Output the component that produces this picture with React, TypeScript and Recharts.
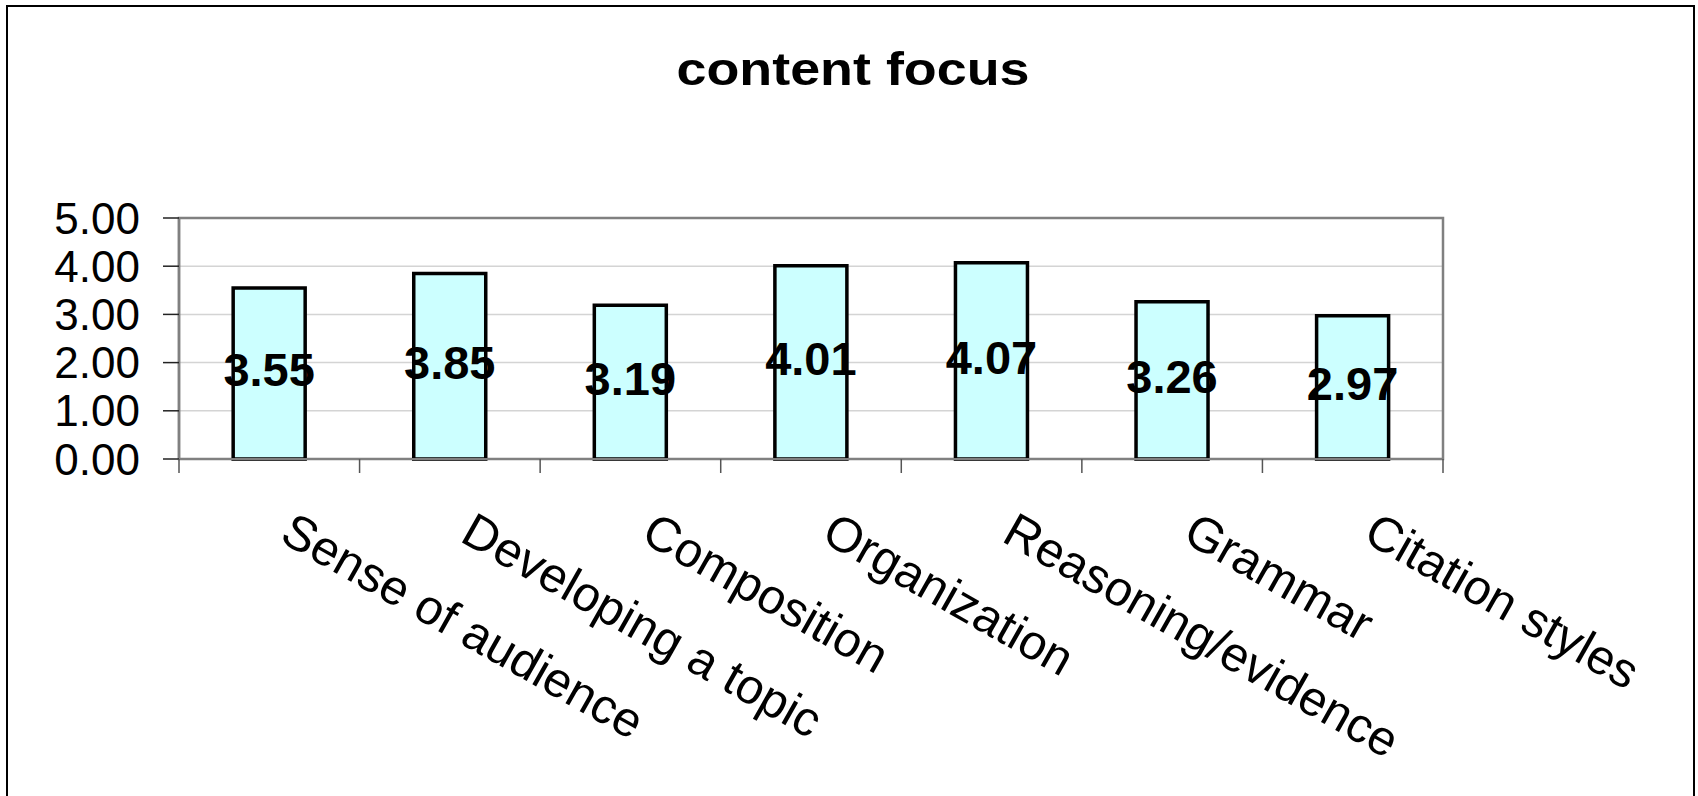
import React from 'react';
import { BarChart, Bar, XAxis, YAxis, CartesianGrid, ReferenceArea, LabelList } from 'recharts';

const categories = [
  'Sense of audience',
  'Developing a topic',
  'Composition',
  'Organization',
  'Reasoning/evidence',
  'Grammar',
  'Citation styles',
];
const scores = [3.55, 3.85, 3.19, 4.01, 4.07, 3.26, 2.97];
const yTicks = [0, 1, 2, 3, 4, 5];
const title = 'content focus';

const data = categories.map((name, i) => ({ name, score: scores[i] }));

const FONT = '"Liberation Sans", Arial, Helvetica, sans-serif';

const CategoryTick = (props: any) => {
  const { x, y, payload, index, visibleTicksCount, width } = props;
  const half =
    payload && typeof payload.offset === 'number' && payload.offset > 0
      ? payload.offset
      : width / visibleTicksCount / 2;
  const ax = x + 26;
  const ay = y + 51;
  const isLast = index === visibleTicksCount - 1;
  return (
    <g>
      <line x1={x - half} y1={y} x2={x - half} y2={y + 14} stroke="#555" strokeWidth={1.5} />
      {isLast && <line x1={x + half} y1={y} x2={x + half} y2={y + 14} stroke="#555" strokeWidth={1.5} />}
      <g transform={`translate(${ax},${ay}) rotate(29.5)`}>
        <text x={0} y={35} fontSize={49} fontFamily={FONT} fill="#000" textAnchor="start">
          {payload.value}
        </text>
      </g>
    </g>
  );
};

export default function App() {
  return (
    <div style={{ position: 'absolute', left: 0, top: 0, width: 1698, height: 796, background: '#fff', overflow: 'hidden' }}>
      <BarChart
        width={1698}
        height={796}
        data={data}
        margin={{ top: 218, right: 255, bottom: 217, left: 0 }}
        barCategoryGap="30%"
      >
        <CartesianGrid vertical={false} stroke="#d4d4d4" strokeWidth={1.5} />
        <ReferenceArea y1={0} y2={5} fill="none" stroke="#808080" strokeWidth={2.5} ifOverflow="visible" />
        <XAxis
          dataKey="name"
          interval={0}
          height={120}
          axisLine={{ stroke: '#808080', strokeWidth: 2 }}
          tickLine={false}
          tickSize={0}
          tickMargin={0}
          tick={<CategoryTick />}
        />
        <YAxis
          width={179}
          domain={[0, 5]}
          ticks={yTicks}
          interval={0}
          tickFormatter={(v: number) => v.toFixed(2)}
          tick={{ fontSize: 44, fill: '#000', fontFamily: FONT }}
          tickSize={16}
          tickMargin={23}
          axisLine={{ stroke: '#808080', strokeWidth: 2.5 }}
          tickLine={{ stroke: '#222', strokeWidth: 1.5 }}
        />
        <Bar dataKey="score" fill="#CCFFFF" stroke="#000" strokeWidth={3.5} isAnimationActive={false}>
          <LabelList
            dataKey="score"
            position="center"
            dy={-4}
            formatter={(v: any) => Number(v).toFixed(2)}
            style={{ fontSize: 47, fontWeight: 'bold', fill: '#000', fontFamily: FONT }}
          />
        </Bar>
      </BarChart>
      <svg
        width={1698}
        height={796}
        style={{ position: 'absolute', left: 0, top: 0, pointerEvents: 'none' }}
      >
        <rect x={7} y={6} width={1687} height={820} fill="none" stroke="#000" strokeWidth={2} />
        <text
          x={853}
          y={85}
          textAnchor="middle"
          fontSize={47}
          fontWeight="bold"
          fontFamily={FONT}
          fill="#000"
          textLength={353}
          lengthAdjust="spacingAndGlyphs"
        >
          {title}
        </text>
      </svg>
    </div>
  );
}
